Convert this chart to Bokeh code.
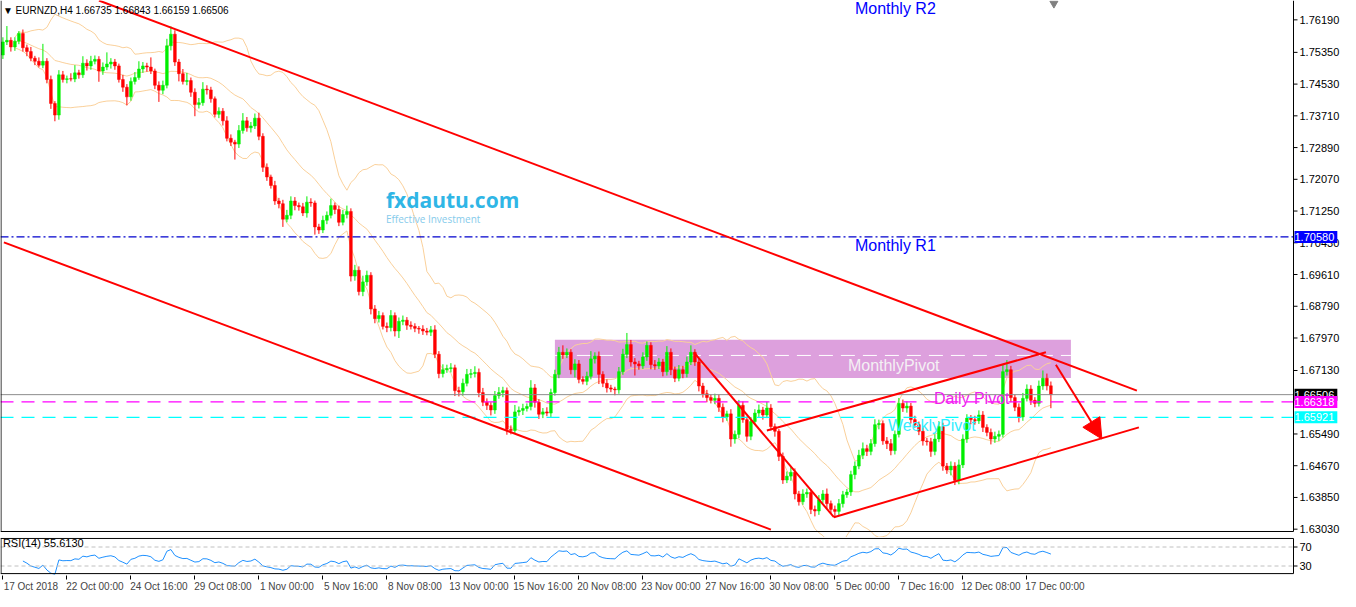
import numpy as np
import pandas as pd
from bokeh.plotting import figure
from bokeh.layouts import column
from bokeh.models import (ColumnDataSource, FixedTicker, Label, Arrow, NormalHead, Range1d,
                          LinearAxis)
from bokeh.core.properties import value
from bokeh.embed import file_html
from bokeh.resources import INLINE

# ---------------- data ----------------
first_open = 1.7528
closes = [
    1.7562, 1.7566, 1.7549, 1.7564, 1.7584, 1.7547, 1.7537, 1.7520, 1.7512, 1.7502,
    1.7512, 1.7465, 1.7403, 1.7373, 1.7477, 1.7465, 1.7467, 1.7466, 1.7482, 1.7477,
    1.7507, 1.7500, 1.7512, 1.7517, 1.7487, 1.7497, 1.7505, 1.7510, 1.7500, 1.7465,
    1.7445, 1.7420, 1.7460, 1.7470, 1.7492, 1.7500, 1.7497, 1.7487, 1.7450, 1.7437,
    1.7450, 1.7552, 1.7582, 1.7510, 1.7480, 1.7460, 1.7462, 1.7432, 1.7400, 1.7405,
    1.7440, 1.7438, 1.7415, 1.7375, 1.7383, 1.7358, 1.7313, 1.7303, 1.7298, 1.7333,
    1.7358, 1.7340, 1.7345, 1.7365, 1.7318, 1.7238, 1.7213, 1.7191, 1.7151, 1.7144,
    1.7104, 1.7114, 1.7151, 1.7139, 1.7136, 1.7120, 1.7148, 1.7146, 1.7084, 1.7076,
    1.7101, 1.7114, 1.7139, 1.7129, 1.7096, 1.7116, 1.7124, 1.6957, 1.6972, 1.6917,
    1.6942, 1.6959, 1.6872, 1.6847, 1.6855, 1.6827, 1.6824, 1.6855, 1.6815, 1.6840,
    1.6843, 1.6830, 1.6827, 1.6822, 1.6820, 1.6815, 1.6812, 1.6818, 1.6755, 1.6705,
    1.6715, 1.6718, 1.6720, 1.6661, 1.6658, 1.6680, 1.6703, 1.6705, 1.6708, 1.6656,
    1.6631, 1.6623, 1.6611, 1.6648, 1.6656, 1.6661, 1.6561, 1.6558, 1.6606, 1.6610,
    1.6615, 1.6620, 1.6668, 1.6631, 1.6600, 1.6606, 1.6603, 1.6656, 1.6703, 1.6760,
    1.6753, 1.6760, 1.6715, 1.6730, 1.6690, 1.6685, 1.6698, 1.6743, 1.6750, 1.6703,
    1.6680, 1.6668, 1.6665, 1.6663, 1.6710, 1.6755, 1.6780, 1.6735, 1.6730, 1.6725,
    1.6748, 1.6778, 1.6728, 1.6725, 1.6735, 1.6710, 1.6760, 1.6715, 1.6693, 1.6715,
    1.6705, 1.6735, 1.6760, 1.6735, 1.6673, 1.6653, 1.6643, 1.6636, 1.6641, 1.6618,
    1.6593, 1.6601, 1.6536, 1.6548, 1.6623, 1.6586, 1.6543, 1.6581, 1.6603, 1.6611,
    1.6598, 1.6616, 1.6568, 1.6556, 1.6491, 1.6430, 1.6440, 1.6450, 1.6394, 1.6374,
    1.6394, 1.6398, 1.6354, 1.6350, 1.6379, 1.6394, 1.6369, 1.6354, 1.6349, 1.6369,
    1.6392, 1.6399, 1.6444, 1.6466, 1.6494, 1.6511, 1.6504, 1.6524, 1.6573, 1.6576,
    1.6531, 1.6524, 1.6506, 1.6548, 1.6628, 1.6616, 1.6621, 1.6586, 1.6573, 1.6556,
    1.6531, 1.6529, 1.6504, 1.6536, 1.6568, 1.6466, 1.6456, 1.6466, 1.6429, 1.6469,
    1.6536, 1.6590, 1.6586, 1.6583, 1.6598, 1.6566, 1.6553, 1.6536, 1.6543, 1.6548,
    1.6710, 1.6715, 1.6643, 1.6618, 1.6593, 1.6641, 1.6665, 1.6636, 1.6628, 1.6673,
    1.6693, 1.66735, 1.66506,
]
# wick extensions in pips above the body / below the body
wick_up = [
    12, 37, 8, 10, 6, 10, 8, 12, 6, 10, 45, 8, 10, 6, 12, 10, 8, 14, 20, 8,
    18, 10, 14, 10, 8, 12, 30, 10, 8, 6, 12, 8, 10, 14, 20, 10, 8, 25, 6, 10,
    12, 18, 20, 10, 8, 12, 20, 8, 10, 12, 18, 10, 8, 6, 10, 8, 12, 10, 6, 14,
    20, 10, 10, 12, 14, 8, 10, 6, 12, 8, 10, 14, 12, 10, 8, 10, 15, 10, 6, 8,
    12, 10, 18, 8, 10, 12, 15, 8, 14, 10, 16, 12, 8, 10, 12, 8, 10, 14, 8, 10,
    12, 8, 10, 8, 6, 10, 8, 10, 12, 8, 14, 10, 12, 8, 10, 12, 14, 12, 16, 10,
    12, 10, 8, 12, 14, 10, 8, 10, 18, 10, 12, 8, 20, 10, 8, 10, 12, 10, 12, 14,
    18, 10, 8, 12, 10, 8, 12, 20, 10, 12, 8, 10, 8, 6, 12, 14, 30, 12, 10, 8,
    12, 10, 8, 12, 10, 8, 16, 10, 8, 12, 10, 14, 18, 8, 10, 8, 10, 8, 12, 10,
    10, 8, 12, 10, 14, 10, 8, 12, 10, 14, 8, 16, 10, 8, 6, 10, 12, 14, 10, 8,
    12, 10, 8, 10, 12, 10, 14, 8, 10, 12, 10, 8, 10, 12, 14, 16, 10, 12, 14, 10,
    8, 10, 12, 10, 14, 10, 12, 8, 10, 8, 10, 8, 10, 12, 14, 10, 8, 12, 10, 14,
    12, 10, 8, 10, 12, 10, 8, 10, 12, 10, 18, 25, 10, 8, 10, 14, 12, 10, 8, 14,
    20, 12, 11,
]
wick_dn = [
    10, 8, 12, 10, 8, 10, 12, 8, 10, 6, 8, 10, 14, 16, 12, 8, 10, 6, 8, 10,
    8, 12, 10, 8, 28, 10, 8, 12, 10, 8, 12, 22, 10, 8, 6, 10, 12, 8, 10, 30,
    10, 8, 12, 10, 20, 8, 10, 12, 30, 10, 8, 12, 10, 8, 10, 12, 8, 10, 40, 10,
    8, 10, 12, 8, 10, 12, 10, 8, 10, 12, 20, 8, 10, 12, 10, 8, 12, 10, 20, 10,
    8, 10, 8, 12, 10, 8, 10, 14, 12, 10, 12, 10, 14, 12, 10, 8, 12, 10, 14, 18,
    10, 12, 8, 10, 12, 10, 8, 10, 10, 12, 10, 8, 10, 14, 12, 10, 8, 10, 10, 12,
    10, 12, 14, 10, 8, 12, 14, 10, 8, 10, 12, 8, 10, 14, 12, 10, 8, 10, 8, 10,
    10, 8, 12, 20, 10, 8, 10, 8, 12, 25, 10, 12, 8, 14, 10, 8, 10, 12, 30, 10,
    8, 10, 12, 10, 8, 12, 10, 14, 10, 8, 12, 10, 8, 10, 14, 10, 12, 8, 10, 12,
    14, 10, 20, 12, 10, 8, 14, 10, 8, 10, 12, 8, 10, 14, 12, 10, 8, 12, 14, 10,
    8, 10, 12, 14, 10, 8, 12, 10, 14, 12, 10, 8, 10, 12, 8, 10, 12, 10, 8, 12,
    10, 14, 12, 10, 8, 10, 12, 10, 8, 10, 12, 10, 14, 10, 8, 12, 10, 14, 12, 10,
    8, 10, 12, 10, 8, 12, 10, 14, 10, 12, 8, 10, 12, 10, 14, 10, 8, 12, 10, 8,
    10, 12, 35,
]

price_ticks = [1.76190, 1.75350, 1.74530, 1.73710, 1.72890, 1.72070, 1.71250, 1.70430,
               1.69610, 1.68790, 1.67970, 1.67130, 1.65490, 1.64670, 1.63850, 1.63030]
rsi_levels = [70, 30]
date_labels = ["17 Oct 2018", "22 Oct 00:00", "24 Oct 16:00", "29 Oct 08:00", "1 Nov 00:00",
               "5 Nov 16:00", "8 Nov 08:00", "13 Nov 00:00", "15 Nov 16:00", "20 Nov 08:00",
               "23 Nov 00:00", "27 Nov 16:00", "30 Nov 08:00", "5 Dec 00:00", "7 Dec 16:00",
               "12 Dec 08:00", "17 Dec 00:00"]
bars_per_label = 16

monthly_r1 = 1.70580
daily_pivot = 1.66318
weekly_pivot = 1.65921
monthly_pivot = 1.67519
last_price = 1.66506
zone_low, zone_high = 1.66937, 1.67925
zone_start, zone_end = 138, 267

# drawn trend lines (bar index, price)
tl_x0 = [24.0, 0.25, 172.75, 207.75, 191.0]
tl_y0 = [1.7669, 1.7044, 1.6760, 1.6334, 1.6558]
tl_x1 = [283.5, 192.0, 207.75, 284.0, 260.75]
tl_y1 = [1.6661, 1.6302, 1.6334, 1.6566, 1.6760]
arrow_from = (263.25, 1.6728)
arrow_to = (274.75, 1.6536)

n = len(closes)
assert len(wick_up) == n and len(wick_dn) == n, (n, len(wick_up), len(wick_dn))

# ---------------- derived series ----------------
opens = [first_open] + closes[:-1]
o = np.array(opens); c = np.array(closes)
top = np.maximum(o, c); bot = np.minimum(o, c)
hi = top + np.array(wick_up) * 0.0001
lo = bot - np.array(wick_dn) * 0.0001
idx = np.arange(n)
up = c >= o
col = np.where(up, "#00EE00", "#FF0000")
src = ColumnDataSource(dict(x=idx, top=top, bot=np.where(top - bot < 0.00005, top - 0.00005, bot),
                            hi=hi, lo=lo, col=col))

s = pd.Series(closes)
mid = s.rolling(20, min_periods=4).mean()
sd = s.rolling(20, min_periods=4).std(ddof=0)
bb_up = mid + 2 * sd
bb_dn = mid - 2 * sd

d = s.diff().fillna(0)
g = d.clip(lower=0).ewm(alpha=1 / 14, adjust=False).mean()
l = (-d.clip(upper=0)).ewm(alpha=1 / 14, adjust=False).mean()
rsi = 100 - 100 / (1 + g / l.replace(0, np.nan))
rsi = rsi.astype(float)
rsi.iloc[:5] = np.nan          # RSI warm-up bars are not drawn

# ---------------- geometry ----------------
FONT = "Liberation Sans"
FW = 1340                       # frame covers the chart and the price-scale strip
PPB = 4.0                       # pixels per bar
X0 = -0.6
X1 = X0 + FW / PPB
XE = X0 + 1293 / PPB            # right edge of the chart area (price scale starts here)
PX = 1.0 / PPB                  # one pixel in bar units
TOP, BOTTOM = 1.7669, 1.6297    # price at top / bottom border of the chart area
MAIN_H = 537
py = (TOP - BOTTOM) / 531       # price per pixel
Y0 = BOTTOM - (MAIN_H - 531) * py

# ---------------- main chart ----------------
p = figure(frame_width=FW, frame_height=MAIN_H, x_range=Range1d(X0, X1), y_range=Range1d(Y0, TOP),
           x_axis_location=None, y_axis_location=None, output_backend="svg",
           toolbar_location=None, min_border=0,
           background_fill_color="white", border_fill_color="white")
p.grid.visible = False
p.outline_line_color = None

# monthly pivot zone
p.quad(left=[zone_start], right=[zone_end], bottom=[zone_low], top=[zone_high],
       fill_color="#DDA0DD", line_color=None)
p.segment(x0=[zone_start], x1=[zone_end], y0=[monthly_pivot], y1=[monthly_pivot],
          line_color="white", line_dash="14 8", line_width=1)

# Bollinger bands
for ser in (bb_up, mid, bb_dn):
    p.line(idx, ser.values, line_color="#FAD09A", line_width=1)

# candles
p.segment(x0="x", x1="x", y0="hi", y1="lo", line_color="col", line_width=1, source=src)
p.vbar(x="x", width=0.7, top="top", bottom="bot", fill_color="col", line_color="col",
       line_width=0.5, source=src)

# horizontal level lines (stop at the price scale)
p.segment(x0=[X0], x1=[XE], y0=[monthly_r1], y1=[monthly_r1], line_color="#0000CD",
          line_dash="8 3 2 3", line_width=1.2)
p.segment(x0=[X0], x1=[XE], y0=[last_price], y1=[last_price], line_color="#8C8C8C", line_width=1)
p.segment(x0=[X0], x1=[XE], y0=[daily_pivot], y1=[daily_pivot], line_color="#FF00FF",
          line_dash="13 8", line_width=1.3)
p.segment(x0=[X0], x1=[XE], y0=[weekly_pivot], y1=[weekly_pivot], line_color="#00FFFF",
          line_dash="13 8", line_width=1.3)

# trend lines
p.segment(x0=tl_x0, y0=tl_y0, x1=tl_x1, y1=tl_y1, line_color="#FF0000", line_width=2)
p.add_layout(Arrow(end=NormalHead(size=20, fill_color="#FF0000", line_color="#FF0000"),
                   x_start=arrow_from[0], y_start=arrow_from[1],
                   x_end=arrow_to[0], y_end=arrow_to[1],
                   line_color="#FF0000", line_width=2))

# chart-shift marker
p.scatter([262.75], [TOP - 3 * py], marker="inverted_triangle", size=8, fill_color="#808080",
          line_color="#808080")

# chart borders and price scale (drawn with the plot's own scales)
p.segment(x0=[X0 + 0.5 * PX, X0, XE], x1=[X0 + 0.5 * PX, XE, XE],
          y0=[TOP, BOTTOM, TOP], y1=[BOTTOM, BOTTOM, BOTTOM], line_color="black", line_width=1)
p.segment(x0=[XE] * len(price_ticks), x1=[XE + 4 * PX] * len(price_ticks),
          y0=price_ticks, y1=price_ticks, line_color="black", line_width=1)
p.text(x=[XE + 6 * PX] * len(price_ticks), y=price_ticks,
       text=["%.5f" % v for v in price_ticks], text_font=value(FONT),
       text_font_size=value("11px"), text_baseline="middle", text_align="left",
       text_color="black")

def lab(x, y, text, color, size, font=FONT, style="normal", bg=None):
    p.add_layout(Label(x=x, y=y, text=text, text_color=color, text_font_size=size,
                       text_font=font, text_font_style=style, text_align="left",
                       text_baseline="middle", background_fill_color=bg))

lab(0.0, TOP - 10 * py, "\u25BC EURNZD,H4  1.66735 1.66843 1.66159 1.66506", "black", "10px")
lab(213.0, 1.7649, "Monthly R2", "#0000FF", "16px")
lab(213.0, 1.7037, "Monthly R1", "#0000FF", "16px")
lab(211.25, 1.6725, "MonthlyPivot", "#F4F0F4", "16px")
lab(232.75, 1.6641, "Daily Pivot", "#EE22EE", "16px")
lab(221.25, 1.6571, "WeeklyPivot", "#33EEFF", "16px")
lab(95.75, 1.7154, "fxdautu.com", "#2FB6E6", "21px", font="Open Sans", style="bold")
lab(95.75, 1.7104, "Effective Investment", "#86CBEB", "10px", font="Open Sans")

# coloured price boxes on the price scale
for val, bg in ((monthly_r1, "#0000FF"), (last_price, "#000000"),
                (daily_pivot, "#FF00FF"), (weekly_pivot, "#00FFFF")):
    lab(XE + 1 * PX, val, " %.5f" % val, "white", "11px", bg=bg)

# ---------------- RSI panel ----------------
R_LO, R_HI = 14, 88             # RSI values at the panel's bottom / top border
r = figure(frame_width=FW, frame_height=38, x_range=p.x_range, y_range=Range1d(R_LO - 4, R_HI + 2),
           y_axis_location=None, output_backend="svg", toolbar_location=None,
           min_border=0, background_fill_color="white", border_fill_color="white")
r.grid.visible = False
r.outline_line_color = None
r.line(idx, rsi.values, line_color="#1E90FF", line_width=1)
r.segment(x0=[X0] * 2, x1=[XE] * 2, y0=rsi_levels, y1=rsi_levels, line_color="#C0C0C0",
          line_dash="4 3", line_width=1)
r.segment(x0=[X0 + 0.5 * PX, X0, X0, XE], x1=[X0 + 0.5 * PX, XE, XE, XE],
          y0=[R_HI, R_HI, R_LO, R_HI], y1=[R_LO, R_HI, R_LO, R_LO], line_color="black",
          line_width=1)
r.segment(x0=[XE] * 2, x1=[XE + 4 * PX] * 2, y0=rsi_levels, y1=rsi_levels,
          line_color="black", line_width=1)
r.text(x=[XE + 6 * PX] * 2, y=rsi_levels, text=[str(v) for v in rsi_levels],
       text_font=value(FONT), text_font_size=value("11px"), text_baseline="middle",
       text_color="black")
r.add_layout(Label(x=0.0, y=R_HI - 9, text="RSI(14) 55.6130", text_color="black",
                   text_font=FONT, text_font_size="11px", text_baseline="middle"))

tick_pos = list(range(0, bars_per_label * len(date_labels), bars_per_label))
# axis with the tick marks only
rx = r.xaxis[0]
rx.ticker = FixedTicker(ticks=tick_pos)
rx.major_label_overrides = {t: "" for t in tick_pos}
rx.major_label_text_font_size = "0px"
rx.major_label_standoff = 0
rx.major_tick_out = 4
rx.major_tick_in = 0
rx.minor_tick_out = 0
rx.minor_tick_in = 0
rx.axis_line_color = None
# axis carrying the date texts, each starting at its tick
label_pos = [t + 7 for t in tick_pos]
lx = LinearAxis(ticker=FixedTicker(ticks=label_pos),
                major_label_overrides={t: s_ for t, s_ in zip(label_pos, date_labels)},
                major_tick_out=0, major_tick_in=0, minor_tick_out=0, minor_tick_in=0,
                axis_line_color=None, major_label_standoff=1,
                major_label_text_font=FONT, major_label_text_font_size="10px")
r.add_layout(lx, "below")

layout = column(p, r, spacing=0)
open("out.html", "w").write(file_html(layout, INLINE))
